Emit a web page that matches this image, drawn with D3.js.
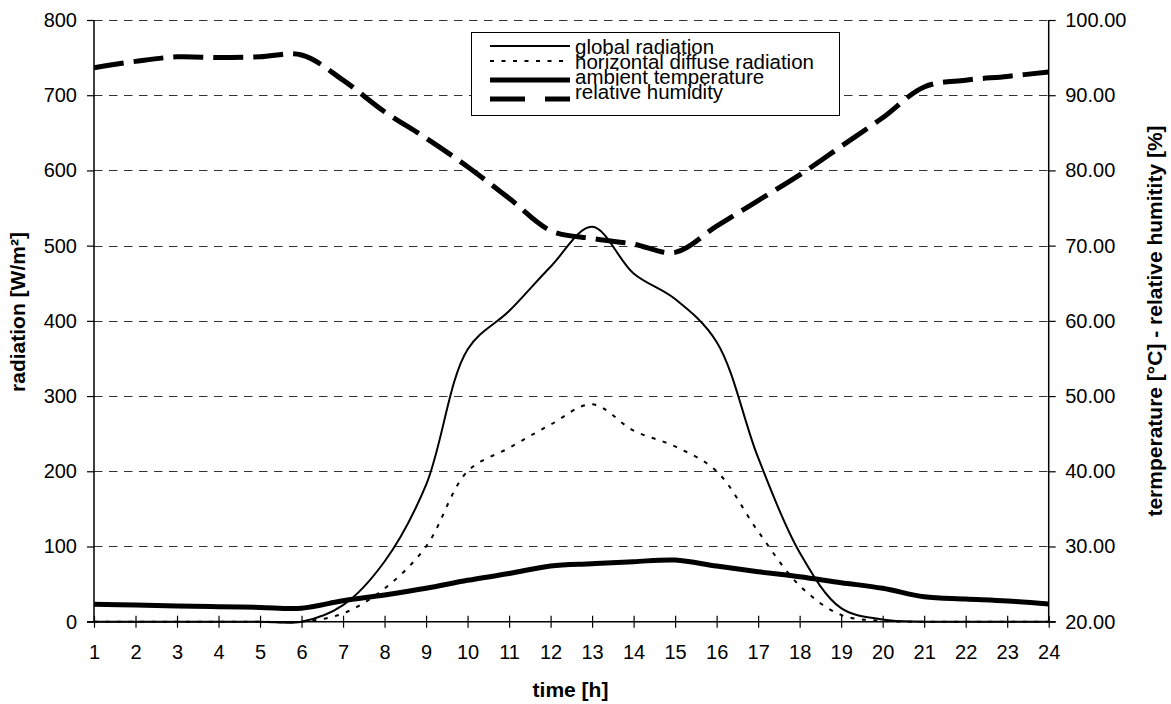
<!DOCTYPE html>
<html><head><meta charset="utf-8">
<script src="https://cdn.jsdelivr.net/npm/d3@7"></script>
<style>
html,body{margin:0;padding:0;background:#fff;}
svg{display:block;font-family:"Liberation Sans",Arial,sans-serif;}
</style></head>
<body>
<svg id="chart" width="1171" height="704"></svg>
<script>
const hours = [1,2,3,4,5,6,7,8,9,10,11,12,13,14,15,16,17,18,19,20,21,22,23,24];
const globalRadiation = [0,0,0,0,0,0,22,80,182,362,413,472,525,463,429,372,218,92,18,3,0,0,0,0];
const diffuseRadiation = [0,0,0,0,0,0,11,44,100,200,231,262,289,254,233,200,120,48,9,1,0,0,0,0];
const ambientTemperature = [22.31,22.22,22.09,22.0,21.9,21.8,22.79,23.55,24.44,25.5,26.4,27.4,27.7,27.98,28.2,27.4,26.65,25.98,25.19,24.44,23.32,23.02,22.75,22.35];
const relativeHumidity = [93.66,94.5,95.1,95.0,95.1,95.35,92.0,87.8,84.3,80.5,76.3,72.0,70.95,70.2,69.1,72.6,76.0,79.4,83.2,87.0,91.1,92.0,92.5,93.1];
const leftTicks = [0,100,200,300,400,500,600,700,800];
const rightTicks = [20,30,40,50,60,70,80,90,100];
const legendLabels = ["global radiation","horizontal diffuse radiation","ambient temperature","relative humidity"];

const svg = d3.select("#chart");
const X0 = 94, X1 = 1048.7, Y0 = 621.7, Y1 = 20;
const x = d3.scaleLinear().domain([1,24]).range([X0,X1]);
const yL = d3.scaleLinear().domain([0,800]).range([Y0,Y1]);
const yR = d3.scaleLinear().domain([20,100]).range([Y0,Y1]);
const FS = 20;
const TFS = 21;

// gridlines
svg.append("g").selectAll("line").data(leftTicks.filter(d=>d>0)).join("line")
  .attr("x1",X0).attr("x2",X1)
  .attr("y1",d=>Math.round(yL(d))+0.5).attr("y2",d=>Math.round(yL(d))+0.5)
  .attr("stroke","#333").attr("stroke-width",1).attr("stroke-dasharray","8.5,6.5");

// axes
const gl = svg.append("g").attr("transform",`translate(${X0},0)`)
  .call(d3.axisLeft(yL).tickValues(leftTicks).tickSize(7).tickPadding(10).tickFormat(d3.format("d")));
const gr = svg.append("g").attr("transform",`translate(${X1},0)`)
  .call(d3.axisRight(yR).tickValues(rightTicks).tickSize(7).tickPadding(9.5).tickFormat(d3.format(".2f")));
const gb = svg.append("g").attr("transform",`translate(0,${Y0})`)
  .call(d3.axisBottom(x).tickValues(hours).tickSize(6).tickPadding(17).tickFormat(d3.format("d")));
gb.selectAll(".tick line").attr("y1",-6).attr("y2",6);
[gl,gr,gb].forEach(g=>{
  g.select(".domain").attr("stroke","#000").attr("stroke-width",1.5);
  g.selectAll(".tick line").attr("stroke","#000").attr("stroke-width",1.2);
  g.selectAll("text").attr("font-size",FS).attr("fill","#000")
    .attr("font-family",'"Liberation Sans",Arial,sans-serif');
});
gl.select(".domain").attr("d",`M0,${Y1}V${Y0}`);
gr.select(".domain").attr("d",`M0,${Y1}V${Y0}`);
gb.select(".domain").attr("d",`M${X0-7},0H${X1+7}`);

// lines
const curve = d3.curveCatmullRom.alpha(0.5);
const lineL = d3.line().x((d,i)=>x(hours[i])).y(d=>yL(d)).curve(curve);
const lineR = d3.line().x((d,i)=>x(hours[i])).y(d=>yR(d)).curve(curve);
const plot = svg.append("g");
plot.append("path").attr("d",lineL(diffuseRadiation)).attr("fill","none")
  .attr("stroke","#000").attr("stroke-width",2).attr("stroke-dasharray","4,7.5");
plot.append("path").attr("d",lineL(globalRadiation)).attr("fill","none")
  .attr("stroke","#000").attr("stroke-width",2);
plot.append("path").attr("d",lineR(ambientTemperature)).attr("fill","none")
  .attr("stroke","#000").attr("stroke-width",5);
plot.append("path").attr("d",lineR(relativeHumidity)).attr("fill","none")
  .attr("stroke","#000").attr("stroke-width",5).attr("stroke-dasharray","30,10");

// legend
const lg = svg.append("g");
lg.append("rect").attr("x",471.5).attr("y",32.5).attr("width",368).attr("height",83)
  .attr("fill","#fff").attr("stroke","#000").attr("stroke-width",1);
const lineY = [46,61,80,99];
const textY = [53.5,68.5,83.5,98.5];
const styles = [
  {w:2,dash:null},{w:2,dash:"4,7.5"},{w:5,dash:null},{w:5,dash:"35,20"}
];
legendLabels.forEach((lab,i)=>{
  lg.append("line").attr("x1",490).attr("x2",570).attr("y1",lineY[i]).attr("y2",lineY[i])
    .attr("stroke","#000").attr("stroke-width",styles[i].w)
    .attr("stroke-dasharray",styles[i].dash);
  lg.append("text").attr("x",575).attr("y",textY[i]).attr("font-size",20.5).text(lab);
});

// axis titles
svg.append("text").attr("transform","translate(25,312) rotate(-90)")
  .attr("text-anchor","middle").attr("font-weight","bold").attr("font-size",TFS)
  .text("radiation [W/m²]");
svg.append("text").attr("x",570.5).attr("y",697)
  .attr("text-anchor","middle").attr("font-weight","bold").attr("font-size",TFS)
  .text("time [h]");
svg.append("text").attr("transform","translate(1162,321) rotate(-90)")
  .attr("text-anchor","middle").attr("font-weight","bold").attr("font-size",TFS)
  .text("termperature [°C] - relative humitity [%]");
</script>
</body></html>
